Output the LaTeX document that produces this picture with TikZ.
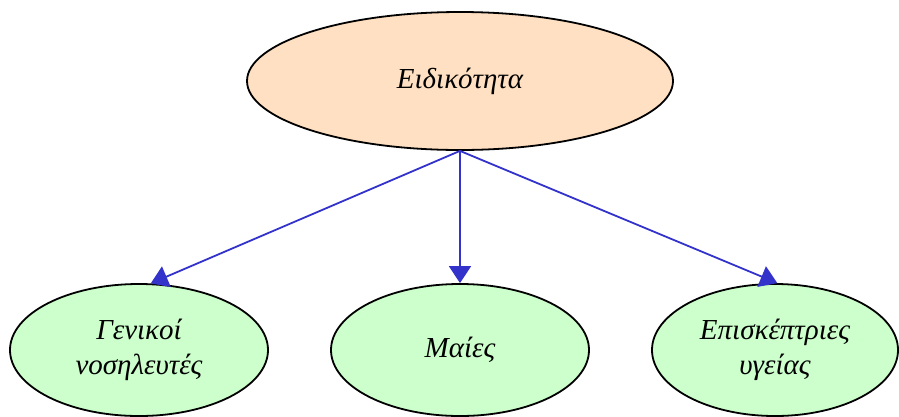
\documentclass[tikz,border=0pt]{standalone}
\usepackage{fontspec}
\setmainfont{Liberation Serif}
\usetikzlibrary{shapes.geometric,arrows.meta}
\definecolor{peach}{RGB}{255,224,194}
\definecolor{mint}{RGB}{204,255,204}
\definecolor{arrowblue}{RGB}{51,51,204}
\tikzset{
  oval/.style={ellipse, draw=black, line width=1.8pt, inner sep=0pt, align=center,
    font=\fontsize{29}{35}\selectfont\itshape},
  topoval/.style={oval, fill=peach, minimum width=426pt, minimum height=138pt},
  leafoval/.style={oval, fill=mint, minimum width=258pt, minimum height=132pt},
  link/.style={draw=arrowblue, line width=1.8pt, -{Triangle[length=17pt,width=22pt]}, arrowblue},
}
\begin{document}
\begin{tikzpicture}[x=1pt,y=-1pt]
\useasboundingbox (0,0) rectangle (899,416);
\node[topoval] (top) at (460,81) {Ειδικότητα};
\node[leafoval] (gen) at (139,350) {Γενικοί\\νοσηλευτές};
\node[leafoval] (mai) at (460,350) {Μαίες};
\node[leafoval, minimum width=246pt] (epi) at (775,350) {Επισκέπτριες\\υγείας};
\draw[link] (top.south) -- (gen.80);
\draw[link] (top.south) -- (mai.north);
\draw[link] (top.south) -- (epi.88);
\end{tikzpicture}
\end{document}
